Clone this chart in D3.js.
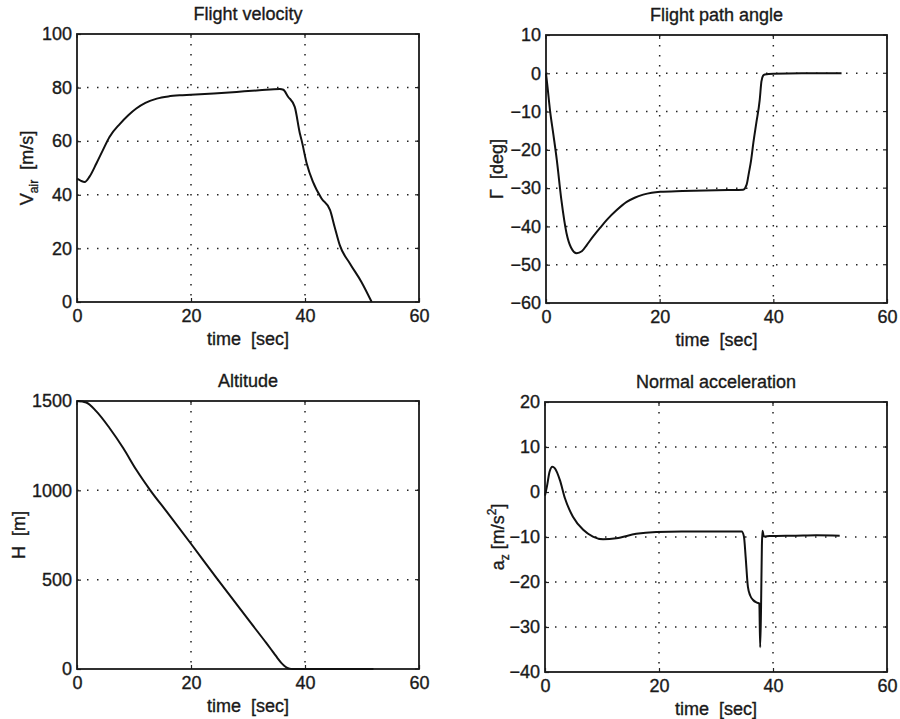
<!DOCTYPE html>
<html>
<head>
<meta charset="utf-8">
<script src="https://cdn.jsdelivr.net/npm/d3@7"></script>
<style>
  body { margin: 0; background: #fff; }
  text { font-family: "Liberation Sans", Arial, Helvetica, sans-serif; fill: #1a1a1a; stroke: #1a1a1a; stroke-width: 0.35; }
</style>
</head>
<body>
<div id="plot"></div>
<script>
// time in sec
const timeTicks = [0, 20, 40, 60];

const velTime = [0, 0.7, 1.35, 2.2, 3.4, 4.5, 5.7, 7.5, 9, 10.4, 12, 14, 16, 18, 20, 24, 28, 32, 35.6, 36.2, 37, 38.2, 39.1, 39.4, 40.3, 41.4, 42.9, 44.4, 45.2, 46.1, 47.9, 49.9, 51.7];
const velAir  = [46, 45.2, 44.8, 46.8, 51.7, 56.5, 61.6, 66.4, 69.7, 72.2, 74.3, 75.9, 76.7, 77.1, 77.3, 77.8, 78.4, 79, 79.5, 79.2, 76.7, 72.8, 62.9, 60.4, 51.7, 44.8, 38.6, 34.3, 28, 21.2, 14.3, 7.5, 0];
const velTicks = [0, 20, 40, 60, 80, 100];

const gamTime = [0, 0.3, 0.7, 1.3, 1.9, 2.7, 3.6, 4.4, 5.4, 6.3, 7.2, 8.3, 9.5, 10.7, 12.4, 14.2, 15.6, 17.1, 18.6, 20.1, 24, 28, 32, 34.7, 35.3, 35.7, 36.1, 36.5, 37, 37.6, 37.9, 38.2, 38.5, 40, 45, 52];
const gamma   = [0, -4, -9.6, -16, -22.6, -33, -41.7, -45.5, -47, -46.5, -44.8, -42.6, -40.4, -38.3, -35.8, -33.6, -32.5, -31.7, -31.2, -30.95, -30.75, -30.6, -30.5, -30.4, -29.1, -26, -22.6, -18, -13, -7, -2.2, -0.6, -0.3, -0.1, 0, 0];
const gamTicks = [-60, -50, -40, -30, -20, -10, 0, 10];

const altTime = [0, 1.6, 3.4, 5.7, 8.1, 10.4, 12.8, 15.7, 20, 24.5, 30.3, 33.2, 34, 34.6, 35.2, 35.8, 36.3, 36.8, 37.3, 37.8, 40, 45, 52];
const altitude = [1500, 1492, 1442, 1349, 1237, 1115, 1003, 882, 701, 509, 266, 146, 112, 86, 60, 36, 20, 8, 2, 0, 0, 0, 0];
const altTicks = [0, 500, 1000, 1500];

const azTime = [0, 0.35, 0.8, 1.3, 1.7, 2.6, 3.5, 4.9, 6.7, 8.4, 10.2, 12.5, 16, 19.5, 24, 30, 34.5, 34.9, 35.2, 35.6, 36, 36.5, 37.2, 37.6, 37.75, 37.9, 38.05, 38.15, 38.4, 39.4, 44, 47.6, 51.7];
const accZ   = [-0.8, 1.3, 4.5, 5.6, 5.3, 2.7, -1.4, -5.5, -8.4, -9.9, -10.5, -10.3, -9.3, -8.9, -8.8, -8.8, -8.8, -9.9, -14.4, -21.1, -23, -24, -24.6, -24.8, -34.5, -26, -12, -8.6, -9.9, -9.8, -9.7, -9.6, -9.7];
const azTicks = [-40, -30, -20, -10, 0, 10, 20];

const svg = d3.select("#plot").append("svg")
    .attr("width", 900)
    .attr("height", 719);

// panel boxes (pixels); label parts carry their own baseline shift
const panels = [
  {title: "Flight velocity", t: velTime, v: velAir, ticks: velTicks, left: 77, top: 34, right: 419, bottom: 302, labOff: 44,
   ylab: [["V", 0, 18], ["air", 5, 12], ["  [m/s]", -5, 18]]},
  {title: "Flight path angle", t: gamTime, v: gamma, ticks: gamTicks, left: 546, top: 35, right: 887, bottom: 303, labOff: 43,
   ylab: [["Γ  [deg]", 0, 18]]},
  {title: "Altitude", t: altTime, v: altitude, ticks: altTicks, left: 77, top: 401, right: 419, bottom: 669, labOff: 52,
   ylab: [["H  [m]", 0, 18]]},
  {title: "Normal acceleration", t: azTime, v: accZ, ticks: azTicks, left: 545, top: 402, right: 887, bottom: 672, labOff: 41,
   ylab: [["a", 0, 18], ["z", 5, 12], [" [m/s", -5, 18], ["2", -8, 12], ["]", 8, 18]]}
];

panels.forEach(p => {
  const w = p.right - p.left, h = p.bottom - p.top;
  const g = svg.append("g").attr("transform", `translate(${p.left},${p.top})`);

  const x = d3.scaleLinear().domain([0, 60]).range([0, w]);
  const y = d3.scaleLinear().domain(d3.extent(p.ticks)).range([h, 0]);

  // dotted grid
  g.selectAll(".gx").data(timeTicks.slice(1, -1)).join("line")
    .attr("x1", d => x(d)).attr("x2", d => x(d)).attr("y1", 0).attr("y2", h)
    .attr("stroke", "#222").attr("stroke-width", 1.5).attr("stroke-dasharray", "1.5,8.5");
  g.selectAll(".gy").data(p.ticks.slice(1, -1)).join("line")
    .attr("y1", d => y(d)).attr("y2", d => y(d)).attr("x1", 0).attr("x2", w)
    .attr("stroke", "#222").attr("stroke-width", 1.5).attr("stroke-dasharray", "1.5,8.5");

  // axes with inward ticks
  const xa = g.append("g").attr("transform", `translate(0,${h})`)
    .call(d3.axisBottom(x).tickValues(timeTicks).tickSizeInner(-4).tickSizeOuter(0).tickPadding(7));
  const ya = g.append("g")
    .call(d3.axisLeft(y).tickValues(p.ticks).tickFormat(d3.format("d")).tickSizeInner(-4).tickSizeOuter(0).tickPadding(5));
  [xa, ya].forEach(a => {
    a.select(".domain").remove();
    a.selectAll("line").attr("stroke", "#222").attr("stroke-width", 1.2);
    a.selectAll("text").attr("font-size", 18).attr("fill", "#1a1a1a")
      .style("font-family", "'Liberation Sans', Arial, sans-serif");
  });
  ya.selectAll("text").text(d => d < 0 ? "\u2212" + Math.abs(d) : d);
  // mirrored ticks on top and right
  g.selectAll(".tt").data(timeTicks).join("line")
    .attr("x1", d => x(d)).attr("x2", d => x(d)).attr("y1", 0).attr("y2", 4)
    .attr("stroke", "#222").attr("stroke-width", 1.2);
  g.selectAll(".tr").data(p.ticks).join("line")
    .attr("y1", d => y(d)).attr("y2", d => y(d)).attr("x1", w).attr("x2", w - 4)
    .attr("stroke", "#222").attr("stroke-width", 1.2);

  g.append("rect").attr("width", w).attr("height", h)
    .attr("fill", "none").attr("stroke", "#1a1a1a").attr("stroke-width", 1.8);

  const line = d3.line().curve(d3.curveMonotoneX)
    .x((d, i) => x(p.t[i])).y(d => y(d));
  g.append("path").datum(p.v)
    .attr("d", line)
    .attr("fill", "none").attr("stroke", "#111").attr("stroke-width", 2)
    .attr("stroke-linejoin", "round");

  // title and axis labels
  g.append("text").attr("x", w / 2).attr("y", -14)
    .attr("text-anchor", "middle").attr("font-size", 18).text(p.title);
  g.append("text").attr("x", w / 2).attr("y", h + 43)
    .attr("text-anchor", "middle").attr("font-size", 18)
    .style("white-space", "pre").text("time  [sec]");

  const yl = g.append("text")
    .attr("transform", `translate(${-p.labOff},${h / 2}) rotate(-90)`)
    .attr("text-anchor", "middle")
    .style("white-space", "pre");
  p.ylab.forEach(([s, dy, fs]) => {
    yl.append("tspan").attr("dy", dy).attr("font-size", fs).text(s);
  });
});
</script>
</body>
</html>
